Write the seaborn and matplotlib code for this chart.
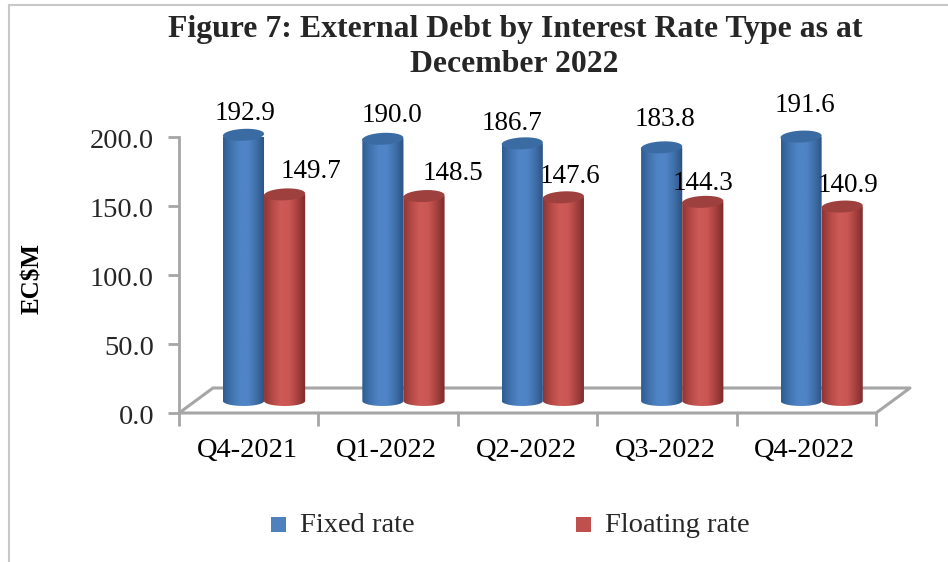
import numpy as np
import pandas as pd
import matplotlib
matplotlib.use('Agg')
import matplotlib.pyplot as plt
import seaborn as sns
from matplotlib.colors import LinearSegmentedColormap
from matplotlib.patches import PathPatch, Polygon, Rectangle
from matplotlib.path import Path
from matplotlib.transforms import ScaledTranslation

quarters = ['Q4-2021', 'Q1-2022', 'Q2-2022', 'Q3-2022', 'Q4-2022']
fixed_rate = [192.9, 190.0, 186.7, 183.8, 191.6]
floating_rate = [149.7, 148.5, 147.6, 144.3, 140.9]
series_names = ['Fixed rate', 'Floating rate']
y_ticks = [0, 50, 100, 150, 200]

# the data labels were dragged by hand in the original, so pixel spots per label
fixed_label_px = [(245, 114), (392, 116), (512, 123), (665, 120), (805, 105)]
floating_label_px = [(311, 172), (453, 173), (570, 177), (703, 183), (848, 185)]

W, H = 948, 562
GREY = '#a6a6a6'
BAR_BASE = 8.7       # the cylinders stand on the floor, above the front edge
SHIFT = 0.11         # depth offset of the bars, category units
ELL_H = 8.6          # ellipse height, data units
TILT = -1.4          # small lean of the caps, data units across the bar

sns.set_theme(style='white')
plt.rcParams['font.family'] = ['Liberation Serif', 'DejaVu Serif']
plt.rcParams['mathtext.default'] = 'regular'

df = pd.DataFrame({
    'quarter': quarters * 2,
    'value': fixed_rate + floating_rate,
    'series': [series_names[0]] * 5 + [series_names[1]] * 5,
})

fig = plt.figure(figsize=(W / 100, H / 100), dpi=100)
ax = fig.add_axes([179 / W, 1 - 413 / H, (876 - 179) / W, (413 - 137) / H])

sns.barplot(data=df, x='quarter', y='value', hue='series', hue_order=series_names,
            order=quarters, dodge=True, width=0.59, gap=0, bottom=BAR_BASE,
            palette=['#4f81bd', '#c0504d'], legend=False, ax=ax, saturation=1)

ax.set_xlim(-0.5, 4.5)
ax.set_ylim(0, 200)

ramps = {
    0: (['#2f5c92', '#4174ae', '#4f84c6', '#4f84c6', '#3f6fa8', '#2b5282'], '#3b6ba3'),
    1: (['#8f3634', '#b64a47', '#cd5a56', '#cb5754', '#a84240', '#7a2b2a'], '#9e403e'),
}


def draw_cylinder(x0, w, top, base, idx, z):
    colors, cap = ramps[idx]
    cmap = LinearSegmentedColormap.from_list('cyl', colors)
    t = np.linspace(0, np.pi, 40)
    xc = x0 + w / 2
    low_x = xc - w / 2 * np.cos(t)
    low_y = base - ELL_H * 0.42 * np.sin(t)
    verts = list(zip(low_x, low_y)) + [(x0 + w, top), (x0, top), (x0, base)]
    patch = PathPatch(Path(verts), transform=ax.transData, fc='none', ec='none', clip_on=False)
    ax.add_patch(patch)
    grad = np.linspace(0, 1, 64).reshape(1, -1)
    im = ax.imshow(grad, extent=(x0, x0 + w, base - ELL_H, top), cmap=cmap,
                   aspect='auto', zorder=z)
    im.set_clip_path(patch)
    # cap as a slightly leaning ellipse
    a = np.linspace(0, 2 * np.pi, 80)
    cap_x = xc + w / 2 * np.cos(a)
    cap_y = top + ELL_H / 2 * np.sin(a) - TILT * np.cos(a) / 2
    ax.add_patch(Polygon(np.column_stack([cap_x, cap_y]), fc=cap, ec='none',
                         zorder=z + 0.1, clip_on=False))


bars = list(ax.patches)
for bar in bars:
    bar.set_visible(False)

n = len(quarters)
for i, bar in enumerate(bars[:2 * n]):
    idx = i // n
    x0 = bar.get_x() + SHIFT
    top = bar.get_y() + bar.get_height()
    draw_cylinder(x0, bar.get_width(), top, BAR_BASE, idx, 5 + idx + 0.2 * (i % n))
    px, py = (fixed_label_px + floating_label_px)[i]
    fig.text(px / W, 1 - py / H, f'{bar.get_height():.1f}', ha='center', va='center',
             fontsize=19.5, color='black')

ax.set_xlim(-0.5, 4.5)
ax.set_ylim(0, 200)

# floor and wall in fake 3D
dx = 34 / ((876 - 179) / 5)
dy = 25 / (276 / 200)
floor_x = [-0.5, 4.5, 4.5 + dx, -0.5 + dx, -0.5]
floor_y = [0, 0, dy, dy, 0]
ax.plot(floor_x, floor_y, color=GREY, lw=2.2, clip_on=False, zorder=2)

sns.despine(ax=ax, top=True, right=True, bottom=True)
ax.spines['left'].set_color(GREY)
ax.spines['left'].set_linewidth(2)

ax.set_yticks(y_ticks)
ax.set_yticklabels([f'{v:.1f}' for v in y_ticks], fontsize=20.5)
ax.set_xticks(np.arange(-0.5, 5, 1), minor=False)
ax.set_xticklabels([])
ax.tick_params(axis='y', length=8, width=2, color=GREY, pad=10, left=True)
ax.tick_params(axis='x', length=9, width=2, color=GREY, bottom=True)
nudge = ScaledTranslation(0, -1.5 / 100, fig.dpi_scale_trans)
for lab in ax.get_yticklabels():
    lab.set_transform(lab.get_transform() + nudge)
for i, q in enumerate(quarters):
    ax.text(i - 0.01, -27.5, q, ha='center', va='center', fontsize=20.5, color='black',
            clip_on=False)

ax.set_ylabel('EC$M', fontsize=18, fontweight='bold', color='black')
ax.yaxis.set_label_coords((44 - 179) / 697, (413 - 278) / 276)
ax.set_xlabel('')

fig.text(515 / W, 1 - 30 / H, 'Figure 7: External Debt by Interest Rate Type as at',
         ha='center', va='center', fontsize=22.9, fontweight='bold')
fig.text(514 / W, 1 - 64 / H, 'December 2022', ha='center', va='center',
         fontsize=22.9, fontweight='bold')

# legend
for px, name, col in [(271, series_names[0], '#4f81bd'), (576, series_names[1], '#c0504d')]:
    fig.add_artist(Rectangle((px / W, 1 - 532 / H), 15 / W, 15 / H, fc=col, ec='none',
                             transform=fig.transFigure))
    fig.text((px + 29) / W, 1 - 525 / H, name, fontsize=20.5, va='center', ha='left')

# frame edge of the original screenshot
fig.add_artist(plt.Line2D([9 / W, 9 / W], [0, 1 - 5 / H], color='#c8c8c8', lw=1.5))
fig.add_artist(plt.Line2D([9 / W, 1], [1 - 5 / H, 1 - 5 / H], color='#c8c8c8', lw=1.5))

fig.savefig('out.png', dpi=100)
